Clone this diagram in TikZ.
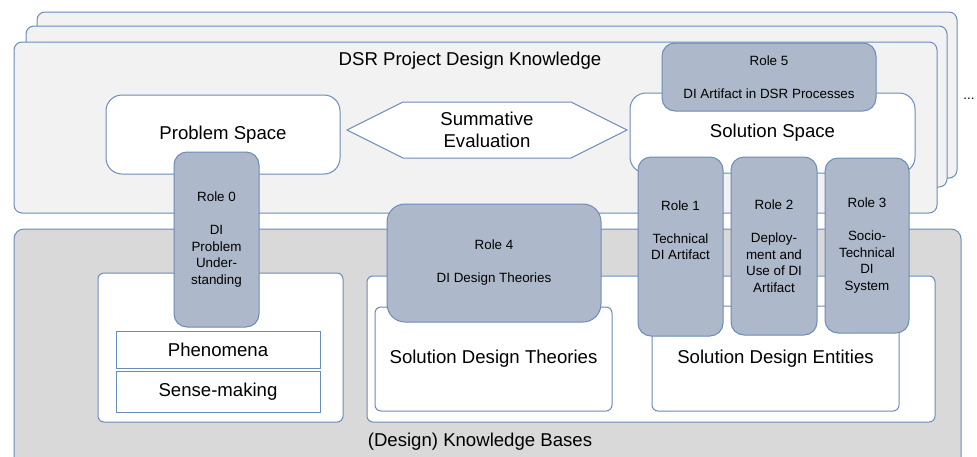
\documentclass[tikz,border=0pt]{standalone}
\usepackage{fontspec}
\setmainfont{Liberation Sans}
\usepackage{tikz}
\usetikzlibrary{shapes.symbols}
\definecolor{frameblue}{HTML}{6A8CBA}
\definecolor{rolefill}{HTML}{ADB9CA}
\definecolor{framegray}{HTML}{F2F2F2}
\definecolor{basegray}{HTML}{D9D9D9}
\newcommand{\bigfont}{\fontsize{18.6}{22}\selectfont}
\newcommand{\rolefont}{\fontsize{13.4}{16.5}\selectfont}

\begin{document}
\begin{tikzpicture}[x=1pt,y=-1pt,%
frame/.style={draw=frameblue,line width=1pt,fill=framegray,rounded corners=8pt,inner sep=0pt,outer sep=0pt},
base/.style={draw=frameblue,line width=1pt,fill=basegray,rounded corners=10pt,inner sep=0pt,outer sep=0pt},
space/.style={draw=frameblue,line width=1pt,fill=white,rounded corners=16pt,inner sep=2pt,outer sep=0pt,font=\bigfont},
holder/.style={draw=frameblue,line width=1pt,fill=white,rounded corners=6pt,inner sep=2pt,outer sep=0pt,font=\bigfont},
plain/.style={draw=frameblue,line width=1pt,fill=white,inner sep=2pt,outer sep=0pt,font=\bigfont},
role/.style={draw=frameblue,line width=1pt,fill=rolefill,rounded corners=13pt,inner sep=2pt,outer sep=0pt,align=center,font=\rolefont},
label/.style={inner sep=0pt,font=\bigfont,align=center}
]
\path[use as bounding box,fill=white] (0,0) rectangle (977,456);
% project knowledge, stacked
\node[style=frame,minimum width=920,minimum height=166] (dsr back) at (497,95) {};
\node[style=frame,minimum width=921,minimum height=161] (dsr mid) at (486.5,106.5) {};
\node[style=frame,minimum width=923,minimum height=171] (dsr) at (475.5,127.5) {};
\node[style=label] (dsr title) at (470,61) {DSR Project Design Knowledge};
\node[inner sep=0pt,font=\rolefont] (more) at (969,99) {...};
% knowledge bases
\node[style=base,minimum width=947,minimum height=239] (kb) at (487.5,348.5) {};
\node[style=label] (kb title) at (480,442) {(Design) Knowledge Bases};
\node[style=holder,minimum width=245,minimum height=149] (problem kb) at (220.5,347.5) {};
\node[style=plain,minimum width=204,minimum height=37] (phenomena) at (218,349.5) {Phenomena};
\node[style=plain,minimum width=204,minimum height=41] (sense) at (218,391.5) {Sense-making};
\node[style=holder,minimum width=568,minimum height=146] (solution kb) at (651,349) {};
\node[style=holder,minimum width=237,minimum height=104] (sdt) at (493.5,359) {Solution Design Theories};
\node[style=holder,minimum width=247,minimum height=105] (sde) at (775.5,358.5) {Solution Design Entities};
% spaces
\node[style=space,minimum width=234,minimum height=79] (problem) at (223,134.5) {Problem Space};
\node[style=space,minimum width=285,minimum height=80] (solution) at (772.5,133) {Solution Space};
\node[draw=frameblue,line width=1pt,fill=white,shape=signal,signal to=west and east,
  signal pointer angle=53.13,minimum width=280,minimum height=56,inner sep=0pt,
  align=center,font=\bigfont] (eval) at (487,130) {Summative\\Evaluation};
% roles
\node[style=role,minimum width=85,minimum height=175] (role0) at (216.5,239.5)
  {Role 0\\~\\DI\\Problem\\Under-\\standing};
\node[style=role,minimum width=214,minimum height=118,rounded corners=18pt] (role4) at (494,263)
  {Role 4\\~\\DI Design Theories};
\node[style=role,minimum width=214,minimum height=68] (role5) at (769,77)
  {Role 5\\~\\DI Artifact in DSR Processes};
\node[style=role,minimum width=85,minimum height=179] (role1) at (680.5,246.5)
  {Role 1\\~\\Technical\\DI Artifact\\~\\~};
\node[style=role,minimum width=86,minimum height=178] (role2) at (774,246)
  {Role 2\\~\\Deploy-\\ment and\\Use of DI\\Artifact};
\node[style=role,minimum width=84,minimum height=175] (role3) at (867,245.5)
  {Role 3\\~\\Socio-\\Technical\\DI\\System};
\end{tikzpicture}
\end{document}
